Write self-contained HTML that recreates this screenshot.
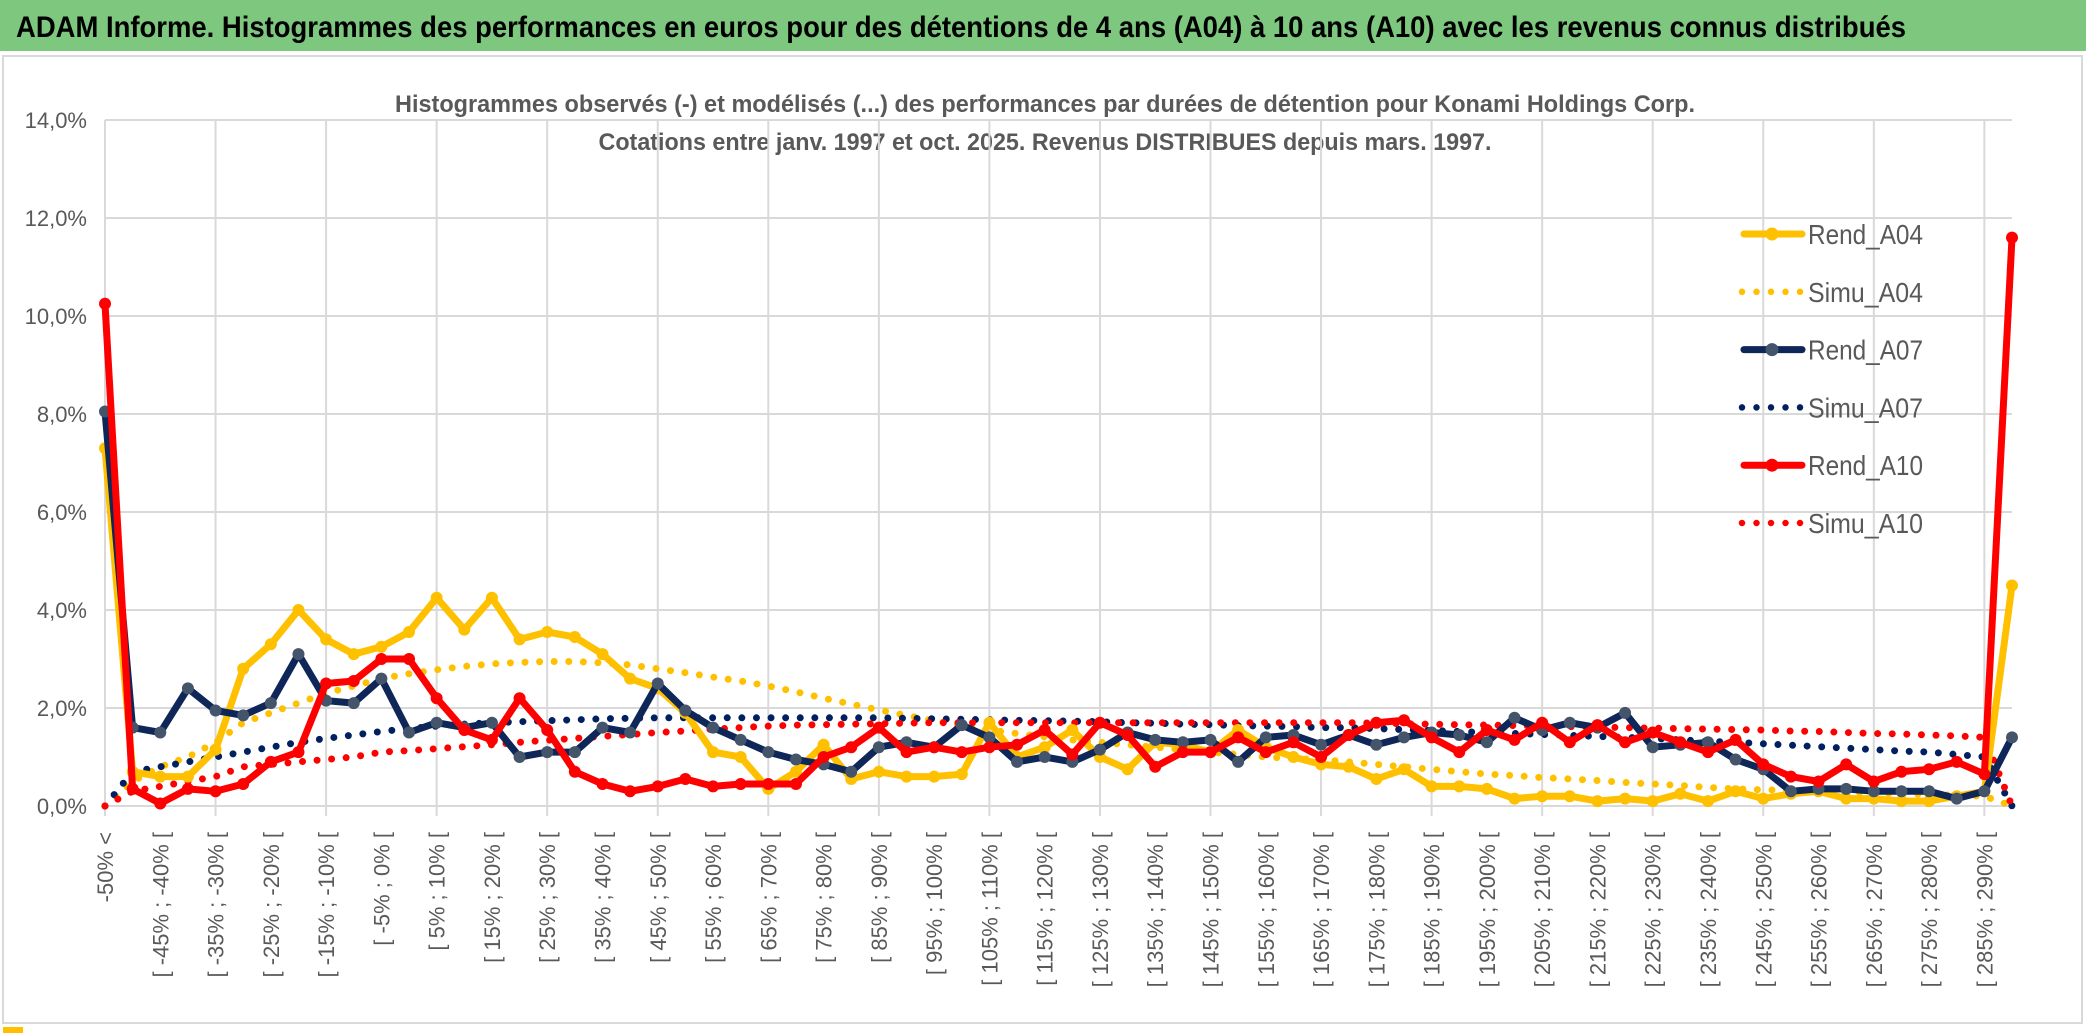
<!DOCTYPE html>
<html><head><meta charset="utf-8"><style>
html,body{margin:0;padding:0;background:#fff;width:2086px;height:1033px;overflow:hidden}
svg{display:block;font-family:"Liberation Sans",sans-serif}
</style></head><body>
<svg id="chart" width="2086" height="1033" viewBox="0 0 2086 1033" xmlns="http://www.w3.org/2000/svg">
<rect x="0" y="0" width="2086" height="1033" fill="#fff"/>
<rect x="0" y="0" width="2086" height="51" fill="#7DC77E"/>
<text x="16" y="37" font-size="30" font-weight="bold" fill="#000" textLength="1890" lengthAdjust="spacingAndGlyphs">ADAM Informe. Histogrammes des performances en euros pour des détentions de 4 ans (A04) à 10 ans (A10) avec les revenus connus distribués</text>
<rect x="3" y="56" width="2079" height="967" fill="none" stroke="#d9d9d9" stroke-width="2"/>
<rect x="3" y="1027" width="20" height="6" fill="#FFC000"/>
<text x="1045" y="112" font-size="24" font-weight="bold" fill="#595959" text-anchor="middle" textLength="1300" lengthAdjust="spacingAndGlyphs">Histogrammes observés (-) et modélisés (...) des performances par durées de détention pour Konami Holdings Corp.</text>
<text x="1045" y="150" font-size="24" font-weight="bold" fill="#595959" text-anchor="middle" textLength="893" lengthAdjust="spacingAndGlyphs">Cotations entre janv. 1997 et oct. 2025. Revenus DISTRIBUES depuis mars. 1997.</text>
<g id="grid"></g><g id="axes"></g><g id="series"></g><g id="legend"></g>
</svg>
<script>
const categories=["-50% <"];
for(let v=-50;v<290;v+=5){categories.push("[ "+v+"% ; "+(v+5)+"% [");}
categories.push("> 290%");
const yTicks=[0,2,4,6,8,10,12,14];
const yTickLabels=["0,0%","2,0%","4,0%","6,0%","8,0%","10,0%","12,0%","14,0%"];
const rendA04=[7.3,0.7,0.6,0.6,1.15,2.8,3.3,4.0,3.4,3.1,3.25,3.55,4.25,3.6,4.25,3.4,3.55,3.45,3.1,2.6,2.4,1.9,1.1,1.0,0.35,0.7,1.25,0.55,0.7,0.6,0.6,0.65,1.7,1.0,1.2,1.55,1.0,0.75,1.3,1.25,1.1,1.55,1.2,1.0,0.85,0.8,0.55,0.75,0.4,0.4,0.35,0.15,0.2,0.2,0.1,0.15,0.1,0.25,0.1,0.3,0.15,0.25,0.3,0.15,0.15,0.1,0.1,0.2,0.3,4.5];
const rendA07=[8.05,1.6,1.5,2.4,1.95,1.85,2.1,3.1,2.15,2.1,2.6,1.5,1.7,1.6,1.7,1.0,1.1,1.1,1.6,1.5,2.5,1.95,1.6,1.35,1.1,0.95,0.85,0.7,1.2,1.3,1.2,1.65,1.4,0.9,1.0,0.9,1.15,1.5,1.35,1.3,1.35,0.9,1.4,1.45,1.25,1.45,1.25,1.4,1.5,1.45,1.3,1.8,1.55,1.7,1.6,1.9,1.2,1.25,1.3,0.95,0.75,0.3,0.35,0.35,0.3,0.3,0.3,0.15,0.3,1.4];
const rendA10=[10.25,0.35,0.05,0.35,0.3,0.45,0.9,1.1,2.5,2.55,3.0,3.0,2.2,1.55,1.35,2.2,1.55,0.7,0.45,0.3,0.4,0.55,0.4,0.45,0.45,0.45,1.0,1.2,1.6,1.1,1.2,1.1,1.2,1.25,1.55,1.05,1.7,1.45,0.8,1.1,1.1,1.4,1.1,1.3,1.0,1.45,1.7,1.75,1.4,1.1,1.55,1.35,1.7,1.3,1.65,1.3,1.5,1.3,1.1,1.35,0.85,0.6,0.5,0.85,0.5,0.7,0.75,0.9,0.65,11.6];
const simuA04=[0,0.5,0.8,1.0,1.3,1.7,1.9,2.1,2.3,2.45,2.6,2.7,2.78,2.85,2.9,2.93,2.95,2.95,2.92,2.88,2.8,2.72,2.63,2.55,2.45,2.33,2.2,2.08,1.96,1.85,1.74,1.64,1.55,1.48,1.41,1.35,1.3,1.25,1.2,1.15,1.1,1.05,1.0,0.97,0.95,0.9,0.85,0.8,0.75,0.7,0.65,0.62,0.58,0.55,0.52,0.48,0.45,0.42,0.38,0.35,0.33,0.32,0.3,0.28,0.27,0.25,0.23,0.22,0.2,0];
const simuA07=[0,0.7,0.8,0.9,1.0,1.1,1.2,1.3,1.38,1.45,1.52,1.58,1.63,1.67,1.7,1.72,1.74,1.76,1.78,1.79,1.8,1.8,1.8,1.8,1.8,1.8,1.8,1.8,1.8,1.79,1.78,1.77,1.76,1.75,1.74,1.73,1.72,1.7,1.69,1.67,1.66,1.64,1.63,1.62,1.6,1.6,1.58,1.56,1.54,1.52,1.5,1.48,1.46,1.44,1.42,1.4,1.38,1.35,1.32,1.3,1.27,1.24,1.21,1.18,1.15,1.12,1.1,1.05,1.0,0];
const simuA10=[0,0.3,0.4,0.5,0.6,0.8,0.85,0.9,0.95,1.0,1.1,1.13,1.17,1.21,1.25,1.3,1.34,1.38,1.42,1.46,1.5,1.53,1.57,1.6,1.63,1.65,1.66,1.67,1.68,1.69,1.7,1.7,1.7,1.7,1.7,1.7,1.7,1.7,1.7,1.7,1.7,1.7,1.7,1.7,1.7,1.7,1.69,1.68,1.67,1.66,1.65,1.64,1.63,1.62,1.61,1.6,1.59,1.58,1.57,1.56,1.55,1.53,1.52,1.5,1.48,1.47,1.45,1.43,1.4,0];
const NS="http://www.w3.org/2000/svg";
const X0=105,X1=2012,Y0=806,YTOP=120;
const n=categories.length;
function xs(i){return X0+i*(X1-X0)/(n-1);}
function ys(v){return Y0-(v/14)*(Y0-YTOP);}
function mk(tag,attrs,parent){const e=document.createElementNS(NS,tag);for(const k in attrs)e.setAttribute(k,attrs[k]);parent.appendChild(e);return e;}
const grid=document.getElementById('grid'),axes=document.getElementById('axes'),series=document.getElementById('series'),legend=document.getElementById('legend');
yTicks.forEach((t,k)=>{
  const l=mk('line',{x1:X0,x2:X1,y1:ys(t),y2:ys(t),stroke:'#d9d9d9','stroke-width':2},grid);
  
  
  const tx=mk('text',{x:87,y:ys(t)+8,'font-size':22,fill:'#595959','text-anchor':'end'},axes);
  tx.textContent=yTickLabels[k];
  
  
});
for(let i=0;i<n;i+=4){
  const l=mk('line',{x1:xs(i),x2:xs(i),y1:YTOP,y2:Y0+10,stroke:'#d9d9d9','stroke-width':2},grid);
  
  
}
for(let i=0;i<n-1;i+=2){
  const x=xs(i)+8,y=832;
  const tx=mk('text',{x:x,y:y,'font-size':22,fill:'#595959','text-anchor':'end',transform:`rotate(-90 ${x} ${y})`},axes);
  tx.textContent=categories[i];
  
  
}
function pts(arr){return arr.map((v,i)=>xs(i).toFixed(1)+','+ys(v).toFixed(1)).join(' ');}
function dotted(arr,color,name){
  const p=mk('polyline',{points:pts(arr),fill:'none',stroke:color,'stroke-width':7,'stroke-linecap':'round','stroke-dasharray':'0 14.6'},series);
  
  
}
function solid(arr,color,mcolor,name){
  const g=mk('g',{},series);
  
  
  mk('polyline',{points:pts(arr),fill:'none',stroke:color,'stroke-width':7,'stroke-linejoin':'round'},g);
  arr.forEach((v,i)=>{
    const c=mk('circle',{cx:xs(i),cy:ys(v),r:6,fill:mcolor},g);
    
    
  });
}
dotted(simuA04,'#FFC000','simu-a04-line');
dotted(simuA07,'#002060','simu-a07-line');
dotted(simuA10,'#FF0000','simu-a10-line');
solid(rendA04,'#FFC000','#FFC000','rend-a04-line');
solid(rendA07,'#0E2658','#44546A','rend-a07-line');
solid(rendA10,'#FF0000','#FF0000','rend-a10-line');
const legendItems=[["Rend_A04",'#FFC000','#FFC000',false],["Simu_A04",'#FFC000','',true],["Rend_A07",'#0E2658','#44546A',false],["Simu_A07",'#002060','',true],["Rend_A10",'#FF0000','#FF0000',false],["Simu_A10",'#FF0000','',true]];
legendItems.forEach((it,k)=>{
  const cy=234+k*57.8;
  const g=mk('g',{},legend);
  
  
  if(it[3]){mk('line',{x1:1742,x2:1802,y1:cy,y2:cy,stroke:it[1],'stroke-width':6.5,'stroke-linecap':'round','stroke-dasharray':'0 14.5'},g);}
  else{mk('line',{x1:1744,x2:1802,y1:cy,y2:cy,stroke:it[1],'stroke-width':7,'stroke-linecap':'round'},g);mk('circle',{cx:1772,cy:cy,r:6.5,fill:it[2]},g);}
  const tx=mk('text',{x:1808,y:cy+10,'font-size':28,fill:'#595959',textLength:115,lengthAdjust:'spacingAndGlyphs'},g);
  tx.textContent=it[0];
});
</script>
</body></html>
